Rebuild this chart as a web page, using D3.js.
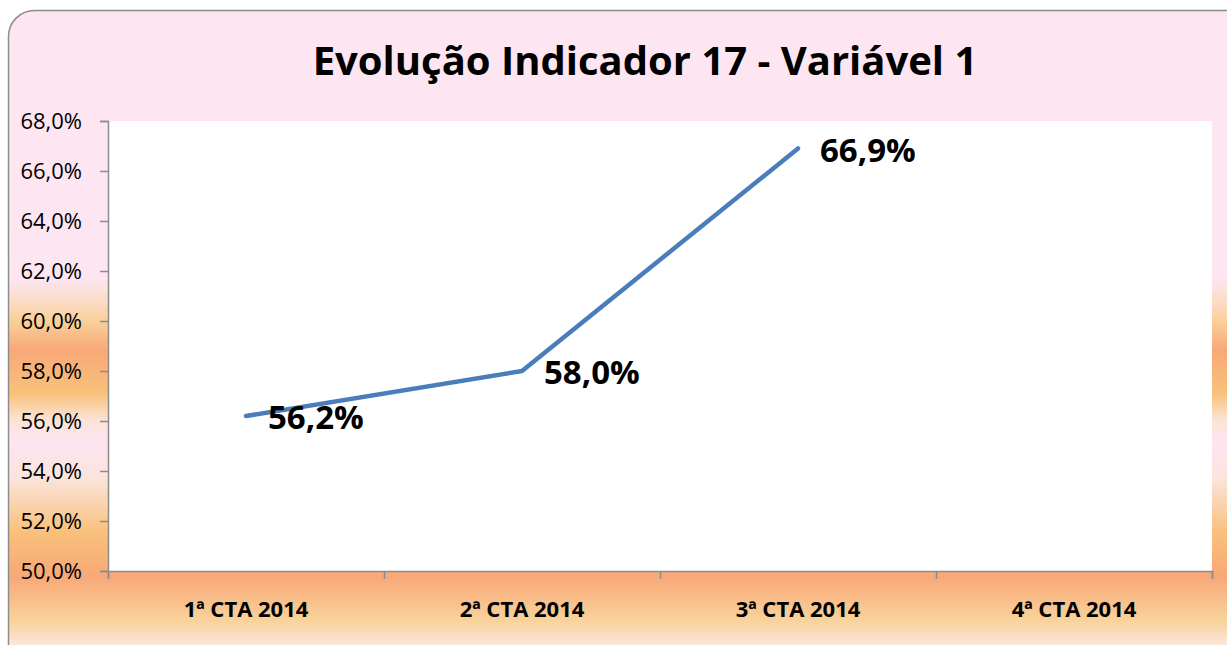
<!DOCTYPE html>
<html>
<head>
<meta charset="utf-8">
<script src="https://cdn.jsdelivr.net/npm/d3@7"></script>
<style>
  body { margin: 0; background: #fff; }
  svg { display: block; }
  .tick text { font-family: "Open Sans", Lato, sans-serif; }
</style>
</head>
<body>
<div id="chart"></div>
<script>
// chart data
const categories = ['1ª CTA 2014', '2ª CTA 2014', '3ª CTA 2014', '4ª CTA 2014'];
const values = [56.2, 58.0, 66.9, null];
const yTicks = [50, 52, 54, 56, 58, 60, 62, 64, 66, 68];
const title = 'Evolução Indicador 17 - Variável 1';

const W = 1227;
const H = 645;
const plot = { left: 108, right: 1212, top: 121, bottom: 571 };
const font = '"Open Sans", Lato, sans-serif';

const pt = d3.formatLocale({ decimal: ',', thousands: '.', grouping: [3], currency: ['', '%'] });
const fmt = (v) => `${pt.format('.1f')(v)}%`;

const svg = d3.select('#chart').append('svg')
  .attr('width', W)
  .attr('height', H);

// background gradient (pink top, sunset bands lower down)
const defs = svg.append('defs');
const grad = defs.append('linearGradient')
  .attr('id', 'bg')
  .attr('gradientUnits', 'userSpaceOnUse')
  .attr('x1', 0).attr('x2', 0)
  .attr('y1', 10).attr('y2', 645);
const stops = [
  [10, '#fde5f1'], [280, '#fde5f1'], [300, '#fbdcc8'], [322, '#f9cf98'],
  [350, '#f8a878'], [393, '#f9c17a'], [420, '#fbe3d6'], [440, '#fde5f1'],
  [478, '#fbe4dc'], [533, '#f9c07a'], [577, '#f8a878'], [620, '#f9d29a'], [645, '#fbe6dc'],
];
stops.forEach(([y, c]) => grad.append('stop')
  .attr('offset', (y - 10) / 635)
  .attr('stop-color', c));

svg.append('rect')
  .attr('x', 8.5).attr('y', 10.5)
  .attr('width', 1245).attr('height', 660)
  .attr('rx', 26)
  .attr('fill', 'url(#bg)')
  .attr('stroke', '#8c8c8c')
  .attr('stroke-width', 1.5);

// plot area
svg.append('rect')
  .attr('x', plot.left).attr('y', plot.top)
  .attr('width', plot.right - plot.left)
  .attr('height', plot.bottom - plot.top)
  .attr('fill', '#fff');

svg.append('text')
  .attr('x', 645).attr('y', 75)
  .attr('text-anchor', 'middle')
  .style('font-family', font)
  .style('font-weight', 'bold')
  .style('font-size', '40px')
  .text(title);

const x = d3.scaleBand().domain(categories).range([plot.left, plot.right]);
const y = d3.scaleLinear().domain([50, 68]).range([plot.bottom, plot.top]);

// y axis
const yAxis = svg.append('g')
  .attr('transform', `translate(${plot.left},0)`)
  .call(d3.axisLeft(y).tickValues(yTicks).tickFormat(fmt).tickSize(8).tickPadding(18));
yAxis.selectAll('line, path').attr('stroke', '#8c8c8c').attr('stroke-width', 1.5);
yAxis.selectAll('text')
  .style('font-size', '22px')
  .attr('fill', '#000');

// x axis: ticks at category boundaries, labels at centers
const xEdge = d3.scaleLinear().domain([0, categories.length]).range([plot.left, plot.right]);
const xTicks = svg.append('g')
  .attr('transform', `translate(0,${plot.bottom})`)
  .call(d3.axisBottom(xEdge).ticks(categories.length).tickSize(8).tickFormat(''));
xTicks.selectAll('line, path').attr('stroke', '#8c8c8c').attr('stroke-width', 1.5);

const xLabels = svg.append('g')
  .attr('transform', `translate(0,${plot.bottom})`)
  .call(d3.axisBottom(x).tickSize(0).tickPadding(30));
xLabels.select('.domain').remove();
xLabels.selectAll('text')
  .style('font-size', '22px')
  .style('font-weight', 'bold')
  .attr('fill', '#000');

// line
const pts = categories.map((c, i) => ({ c, v: values[i] })).filter((d) => d.v != null);
const line = d3.line()
  .x((d) => x(d.c) + x.bandwidth() / 2)
  .y((d) => y(d.v));

svg.append('path')
  .datum(pts)
  .attr('d', line)
  .attr('fill', 'none')
  .attr('stroke', '#4a7ebb')
  .attr('stroke-width', 4.5)
  .attr('stroke-linejoin', 'round')
  .attr('stroke-linecap', 'round');

// data labels
svg.append('g').selectAll('text')
  .data(pts)
  .enter()
  .append('text')
  .attr('x', (d) => x(d.c) + x.bandwidth() / 2 + 22)
  .attr('y', (d) => y(d.v) + 13)
  .style('font-family', font)
  .style('font-weight', 'bold')
  .style('font-size', '33px')
  .text((d) => fmt(d.v));
</script>
</body>
</html>
